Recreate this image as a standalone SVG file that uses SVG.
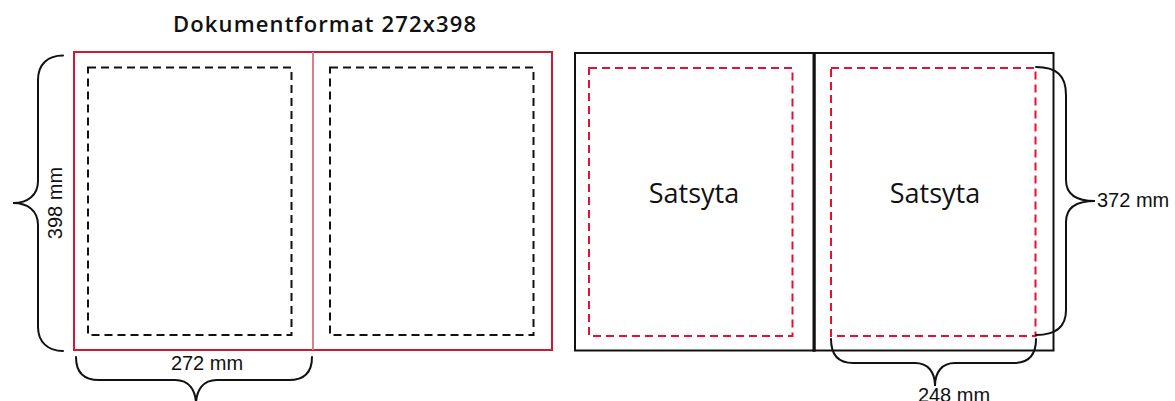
<svg xmlns="http://www.w3.org/2000/svg" width="1175" height="401" viewBox="0 0 1175 401">
  <style>
    .page-red { fill: none; stroke: #cc1a30; stroke-width: 2; }
    .page-black { fill: none; stroke: #111; stroke-width: 2; }
    .dash-black { fill: none; stroke: #111; stroke-width: 2; stroke-dasharray: 8 5; }
    .dash-red { fill: none; stroke: #e8102e; stroke-width: 2; stroke-dasharray: 8 5; }
    .brace { fill: none; stroke: #111; stroke-width: 2; stroke-linecap: round; }
    .head { font-family: "Open Sans", "Noto Sans", sans-serif; font-size: 22px; font-weight: 600; fill: #111; }
    .label { font-family: "Open Sans", "Noto Sans", sans-serif; font-size: 27px; fill: #111; }
    .dim { font-family: "Liberation Sans", Arial, sans-serif; font-size: 20px; fill: #111; }
  </style>
  <rect width="1175" height="401" fill="#fff"/>

  <text class="head" x="173" y="32" textLength="303" lengthAdjust="spacing">Dokumentformat  272x398</text>

  <g id="doc-left-page">
    <rect class="page-red" x="74" y="52" width="239" height="298"/>
    <rect class="dash-black" x="88" y="67.5" width="203.5" height="267.5"/>
  </g>
  <g id="doc-right-page">
    <rect class="page-red" x="313" y="52" width="239" height="298"/>
    <rect class="dash-black" x="330" y="67.5" width="203.5" height="267.5"/>
  </g>
  <line x1="313" y1="52" x2="313" y2="350" stroke="#dc7d88" stroke-width="2"/>

  <g id="text-left-page">
    <rect class="page-black" x="575" y="53" width="239.5" height="297.5"/>
    <rect class="dash-red" x="589" y="68" width="203.5" height="268"/>
    <text class="label" x="694" y="203" text-anchor="middle">Satsyta</text>
  </g>
  <g id="text-right-page">
    <rect class="page-black" x="814" y="53" width="239.5" height="297.5"/>
    <rect class="dash-red" x="831" y="68" width="204.5" height="268"/>
    <text class="label" x="935" y="203" text-anchor="middle">Satsyta</text>
  </g>
  <line x1="814" y1="52" x2="814" y2="351.5" stroke="#111" stroke-width="3"/>

  <g id="connectors">
    <path class="brace" d="M63,55.5 C48,55.5 38,64 38,80 L38,181 C38,195 28,203 13,203 C28,203 38,211 38,225 L38,327 C38,342 48,351 63,351"/>
    <path class="brace" d="M76,357 C76,372 84,380 99,380 L175,380 C189,380 196,390 196,405 C196,390 203,380 217,380 L289,380 C304,380 312,372 312,357"/>
    <path class="brace" d="M1036,67 C1056,67 1066,75 1066,95 L1066,180 C1066,194 1076,201 1095,201 C1076,201 1066,208 1066,222 L1066,310 C1066,327 1056,335 1036,335"/>
    <path class="brace" d="M831,339 C831,355 838,363 853,363 L915,363 C928,363 935,372 935,386 C935,372 942,363 955,363 L1014,363 C1029,363 1036,355 1036,339"/>
  </g>

  <text class="dim" transform="translate(62,203) rotate(-90)" text-anchor="middle">398 mm</text>
  <text class="dim" x="207" y="370" text-anchor="middle">272 mm</text>
  <text class="dim" x="1097" y="207">372 mm</text>
  <text class="dim" x="954" y="402" text-anchor="middle">248 mm</text>
</svg>
